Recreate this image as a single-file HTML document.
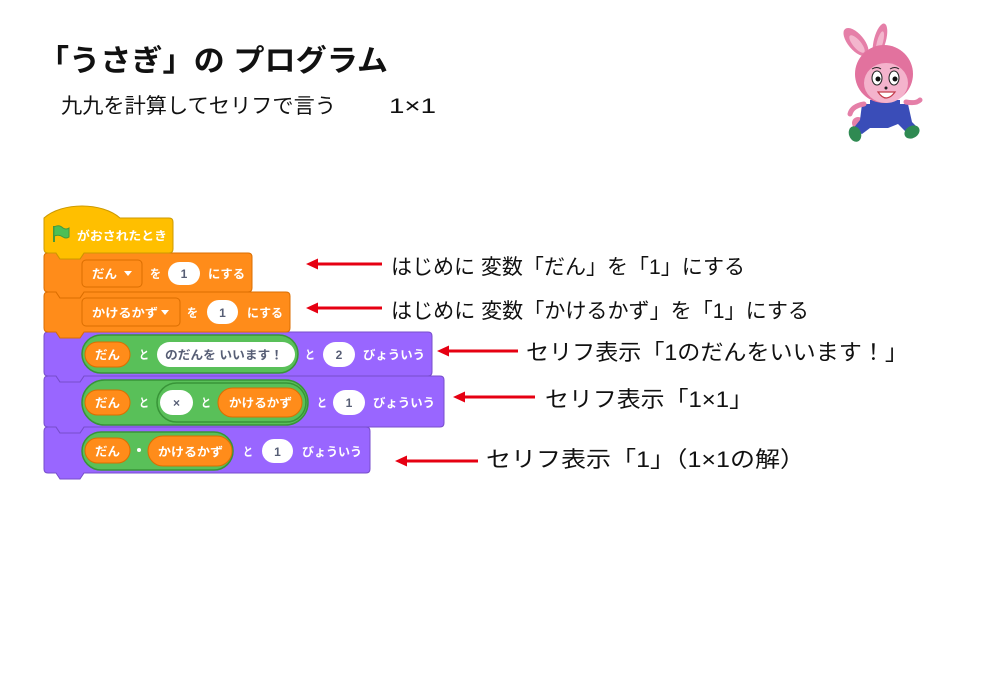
<!DOCTYPE html>
<html><head><meta charset="utf-8"><style>
html,body{margin:0;padding:0;background:#fff;}
svg{display:block;}
.b{font-family:"Liberation Sans","Noto Sans CJK JP",sans-serif;font-weight:700;font-size:12px;fill:#fff;}
.g{fill:#575E75;}
.t{font-family:"Liberation Sans","Noto Sans CJK JP",sans-serif;fill:#111;}
</style></head><body>
<svg width="1000" height="692" viewBox="0 0 1000 692" xmlns="http://www.w3.org/2000/svg">
<rect width="1000" height="692" fill="#fff"/>

<!-- Title -->
<text class="t" x="38" y="71" font-size="30" font-weight="700" textLength="350" lengthAdjust="spacingAndGlyphs">「うさぎ」の プログラム</text>
<text class="t" x="61" y="113" font-size="21" textLength="275" lengthAdjust="spacingAndGlyphs">九九を計算してセリフで言う</text>
<text class="t" x="389" y="113" font-size="21" textLength="47" lengthAdjust="spacingAndGlyphs">1×1</text>

<!-- Rabbit -->
<g>
  <ellipse cx="856" cy="42" rx="8" ry="17" fill="#E57FA8" transform="rotate(-40 856 42)"/>
  <ellipse cx="857" cy="44" rx="4" ry="11" fill="#F3B6CD" transform="rotate(-40 857 44)"/>
  <ellipse cx="880" cy="40" rx="6" ry="17" fill="#E57FA8" transform="rotate(15 880 40)"/>
  <ellipse cx="880" cy="42" rx="3" ry="11" fill="#F3B6CD" transform="rotate(15 880 42)"/>
  <!-- tail -->
  <circle cx="858" cy="123" r="6" fill="#E57FA8"/>
  <!-- legs/overalls -->
  <path d="M862,104 L908,104 L912,122 L918,128 L908,134 L898,124 L888,128 L870,128 L862,134 L852,130 L860,120 Z" fill="#3A4DB8"/>
  <rect x="870" y="100" width="30" height="10" fill="#3A4DB8"/>
  <!-- arms -->
  <path d="M864,104 Q852,106 850,114" stroke="#E57FA8" stroke-width="5" fill="none" stroke-linecap="round"/>
  <path d="M906,102 Q916,104 920,100" stroke="#E57FA8" stroke-width="5" fill="none" stroke-linecap="round"/>
  <!-- shoes -->
  <ellipse cx="855" cy="134" rx="6" ry="8" fill="#2F8A52" transform="rotate(-20 855 134)"/>
  <ellipse cx="912" cy="132" rx="8" ry="6" fill="#2F8A52" transform="rotate(-30 912 132)"/>
  <!-- head -->
  <circle cx="884" cy="74" r="29" fill="#E2729E"/>
  <ellipse cx="886" cy="83" rx="22" ry="20" fill="#F4B3CC"/>
  <ellipse cx="877" cy="78" rx="5" ry="7" fill="#fff" stroke="#222" stroke-width="1"/>
  <ellipse cx="894" cy="78" rx="5" ry="7" fill="#fff" stroke="#222" stroke-width="1"/>
  <circle cx="878" cy="79" r="2.5" fill="#111"/>
  <circle cx="895" cy="79" r="2.5" fill="#111"/>
  <circle cx="886" cy="88" r="1.5" fill="#222"/>
  <path d="M878,92 Q886,104 895,92 Z" fill="#fff" stroke="#C23B4A" stroke-width="1.2"/>
  <path d="M872,69 Q877,66 881,69 M890,69 Q895,66 899,69" stroke="#222" stroke-width="1" fill="none"/>
</g>

<!-- Blocks (drawn bottom first) -->
<!-- Say3 -->
<path d="M44,431 Q44,427 48,427 H56 L60,433 H80 L84,427 H366 Q370,427 370,431 V469 Q370,473 366,473 H84 L80,479 H60 L56,473 H48 Q44,473 44,469 Z" fill="#9966FF" stroke="#774DCB" stroke-width="1"/>
<!-- Say2 -->
<path d="M44,380 Q44,376 48,376 H56 L60,382 H80 L84,376 H440 Q444,376 444,380 V423 Q444,427 440,427 H84 L80,433 H60 L56,427 H48 Q44,427 44,423 Z" fill="#9966FF" stroke="#774DCB" stroke-width="1"/>
<!-- Say1 -->
<path d="M44,336 Q44,332 48,332 H56 L60,338 H80 L84,332 H428 Q432,332 432,336 V372 Q432,376 428,376 H84 L80,382 H60 L56,376 H48 Q44,376 44,372 Z" fill="#9966FF" stroke="#774DCB" stroke-width="1"/>
<!-- Set2 -->
<path d="M44,296 Q44,292 48,292 H56 L60,298 H80 L84,292 H286 Q290,292 290,296 V328 Q290,332 286,332 H84 L80,338 H60 L56,332 H48 Q44,332 44,328 Z" fill="#FF8C1A" stroke="#DB6E00" stroke-width="1"/>
<!-- Set1 -->
<path d="M44,257 Q44,253 48,253 H56 L60,259 H80 L84,253 H248 Q252,253 252,257 V288 Q252,292 248,292 H84 L80,298 H60 L56,292 H48 Q44,292 44,288 Z" fill="#FF8C1A" stroke="#DB6E00" stroke-width="1"/>
<!-- Hat -->
<path d="M44,218 C62,202 102,202 120,218 H169 Q173,218 173,222 V249 Q173,253 169,253 H84 L80,259 H60 L56,253 H48 Q44,253 44,249 Z" fill="#FFBF00" stroke="#CC9900" stroke-width="1"/>

<!-- Hat contents -->
<path d="M54,226 V242" stroke="#45993D" stroke-width="2"/>
<path d="M54,227 Q59,224 63,228 Q66,230 69,228 V237 Q66,239 63,237 Q59,234 54,236 Z" fill="#4CBF56" stroke="#45993D" stroke-width="1"/>
<text class="b" x="77" y="240" textLength="90" lengthAdjust="spacingAndGlyphs">がおされたとき</text>

<!-- Set1 contents -->
<rect x="82" y="260" width="60" height="27" rx="4" fill="#FF8C1A" stroke="#DB6E00" stroke-width="1"/>
<text class="b" x="92" y="278" textLength="25" lengthAdjust="spacingAndGlyphs">だん</text>
<polygon points="124,271 132,271 128,276" fill="#fff"/>
<text class="b" x="150" y="278" textLength="11" lengthAdjust="spacingAndGlyphs">を</text>
<rect x="168" y="262" width="32" height="23" rx="11.5" fill="#fff"/>
<text class="b g" x="184" y="278" text-anchor="middle">1</text>
<text class="b" x="208" y="278" textLength="37" lengthAdjust="spacingAndGlyphs">にする</text>

<!-- Set2 contents -->
<rect x="82" y="298" width="98" height="28" rx="4" fill="#FF8C1A" stroke="#DB6E00" stroke-width="1"/>
<text class="b" x="92" y="317" textLength="66" lengthAdjust="spacingAndGlyphs">かけるかず</text>
<polygon points="161,310 169,310 165,315" fill="#fff"/>
<text class="b" x="187" y="317" textLength="11" lengthAdjust="spacingAndGlyphs">を</text>
<rect x="207" y="300" width="31" height="24" rx="12" fill="#fff"/>
<text class="b g" x="222.5" y="317" text-anchor="middle">1</text>
<text class="b" x="247" y="317" textLength="36" lengthAdjust="spacingAndGlyphs">にする</text>

<!-- Say1 contents -->
<rect x="82" y="335" width="216" height="38" rx="19" fill="#59C059" stroke="#389438" stroke-width="1.5"/>
<rect x="85" y="342" width="45" height="25" rx="12.5" fill="#FF8C1A" stroke="#DB6E00" stroke-width="1"/>
<text class="b" x="95" y="359" textLength="25" lengthAdjust="spacingAndGlyphs">だん</text>
<text class="b" x="139" y="359" textLength="10" lengthAdjust="spacingAndGlyphs">と</text>
<rect x="157" y="342" width="138" height="25" rx="12.5" fill="#fff"/>
<text class="b g" x="165" y="359" textLength="118" lengthAdjust="spacingAndGlyphs">のだんを いいます！</text>
<text class="b" x="305" y="359" textLength="10" lengthAdjust="spacingAndGlyphs">と</text>
<rect x="323" y="342" width="32" height="25" rx="12.5" fill="#fff"/>
<text class="b g" x="339" y="359" text-anchor="middle">2</text>
<text class="b" x="363" y="359" textLength="62" lengthAdjust="spacingAndGlyphs">びょういう</text>

<!-- Say2 contents -->
<rect x="82" y="380" width="226" height="45" rx="22.5" fill="#59C059" stroke="#389438" stroke-width="1.5"/>
<rect x="85" y="390" width="45" height="25" rx="12.5" fill="#FF8C1A" stroke="#DB6E00" stroke-width="1"/>
<text class="b" x="95" y="407" textLength="25" lengthAdjust="spacingAndGlyphs">だん</text>
<text class="b" x="139" y="407" textLength="10" lengthAdjust="spacingAndGlyphs">と</text>
<rect x="157" y="383" width="149" height="39" rx="19.5" fill="#59C059" stroke="#389438" stroke-width="1.5"/>
<rect x="160" y="390" width="33" height="25" rx="12.5" fill="#fff"/>
<text class="b g" x="176.5" y="407" text-anchor="middle" font-size="11">×</text>
<text class="b" x="201" y="407" textLength="10" lengthAdjust="spacingAndGlyphs">と</text>
<rect x="218" y="388" width="84" height="29" rx="14.5" fill="#FF8C1A" stroke="#DB6E00" stroke-width="1"/>
<text class="b" x="229" y="407" textLength="63" lengthAdjust="spacingAndGlyphs">かけるかず</text>
<text class="b" x="317" y="407" textLength="10" lengthAdjust="spacingAndGlyphs">と</text>
<rect x="333" y="390" width="32" height="25" rx="12.5" fill="#fff"/>
<text class="b g" x="349" y="407" text-anchor="middle">1</text>
<text class="b" x="373" y="407" textLength="62" lengthAdjust="spacingAndGlyphs">びょういう</text>

<!-- Say3 contents -->
<rect x="82" y="432" width="151" height="38" rx="19" fill="#59C059" stroke="#389438" stroke-width="1.5"/>
<rect x="85" y="438" width="45" height="25" rx="12.5" fill="#FF8C1A" stroke="#DB6E00" stroke-width="1"/>
<text class="b" x="95" y="455.5" textLength="25" lengthAdjust="spacingAndGlyphs">だん</text>
<circle cx="139" cy="450" r="2" fill="#fff"/>
<rect x="148" y="436" width="84" height="30" rx="15" fill="#FF8C1A" stroke="#DB6E00" stroke-width="1"/>
<text class="b" x="158" y="456" textLength="65" lengthAdjust="spacingAndGlyphs">かけるかず</text>
<text class="b" x="243" y="456" textLength="10" lengthAdjust="spacingAndGlyphs">と</text>
<rect x="262" y="439" width="31" height="24" rx="12" fill="#fff"/>
<text class="b g" x="277.5" y="456" text-anchor="middle">1</text>
<text class="b" x="302" y="456" textLength="60" lengthAdjust="spacingAndGlyphs">びょういう</text>

<!-- Arrows -->
<g fill="#E60012" stroke="none">
  <rect x="316" y="262.5" width="66" height="3"/><polygon points="306,264 318,258.5 318,269.5"/>
  <rect x="316" y="306.5" width="66" height="3"/><polygon points="306,308 318,302.5 318,313.5"/>
  <rect x="447" y="349.5" width="71" height="3"/><polygon points="437,351 449,345.5 449,356.5"/>
  <rect x="463" y="395.5" width="72" height="3"/><polygon points="453,397 465,391.5 465,402.5"/>
  <rect x="405" y="459.5" width="73" height="3"/><polygon points="395,461 407,455.5 407,466.5"/>
</g>

<!-- Annotation texts -->
<text class="t" x="391" y="274" font-size="21" textLength="354" lengthAdjust="spacingAndGlyphs">はじめに 変数「だん」を「1」にする</text>
<text class="t" x="391" y="318" font-size="21" textLength="418" lengthAdjust="spacingAndGlyphs">はじめに 変数「かけるかず」を「1」にする</text>
<text class="t" x="526" y="360" font-size="22" textLength="382" lengthAdjust="spacingAndGlyphs">セリフ表示「1のだんをいいます！」</text>
<text class="t" x="545" y="407" font-size="22" textLength="208" lengthAdjust="spacingAndGlyphs">セリフ表示「1×1」</text>
<text class="t" x="486" y="467" font-size="22" textLength="319" lengthAdjust="spacingAndGlyphs">セリフ表示「1」（1×1の解）</text>
</svg>
</body></html>
